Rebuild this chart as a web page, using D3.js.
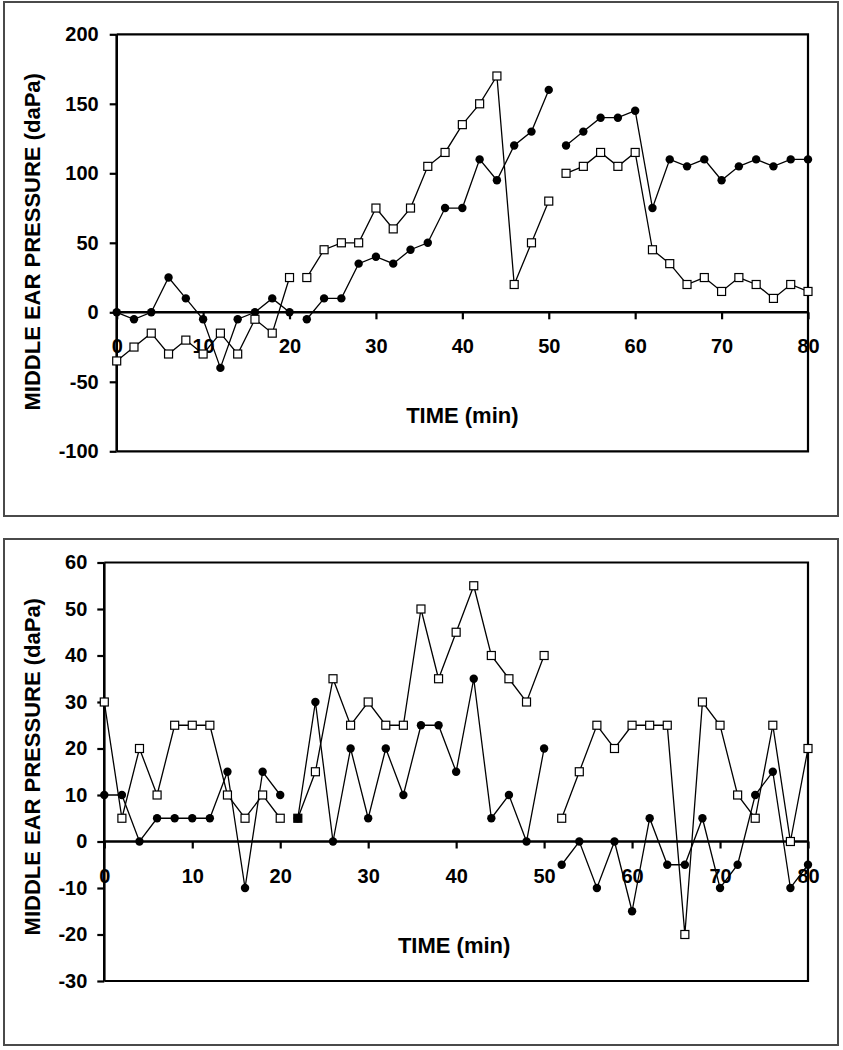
<!DOCTYPE html>
<html>
<head>
<meta charset="utf-8">
<script src="https://cdn.jsdelivr.net/npm/d3@7"></script>
<style>
  html, body { margin: 0; padding: 0; background: #fff; }
  svg { display: block; }
  text { font-family: "Liberation Sans", Arial, Helvetica, sans-serif; font-weight: bold; fill: #000; }
</style>
</head>
<body>
<svg id="chart" width="843" height="1050"></svg>
<script>
// ---------- DATA ----------
const time = [0,2,4,6,8,10,12,14,16,18,20,22,24,26,28,30,32,34,36,38,40,42,44,46,48,50,52,54,56,58,60,62,64,66,68,70,72,74,76,78,80];
// line is broken after these times
const gapAfter = [20, 50];

const xTicks = [0,10,20,30,40,50,60,70,80];

// Top panel
const topCircles = [0,-5,0,25,10,-5,-40,-5,0,10,0,
  -5,10,10,35,40,35,45,50,75,75,110,95,120,130,160,
  120,130,140,140,145,75,110,105,110,95,105,110,105,110,110];
const topSquares = [-35,-25,-15,-30,-20,-30,-15,-30,-5,-15,25,
  25,45,50,50,75,60,75,105,115,135,150,170,20,50,80,
  100,105,115,105,115,45,35,20,25,15,25,20,10,20,15];
const topYTicks = [-100,-50,0,50,100,150,200];

// Bottom panel
const bottomCircles = [10,10,0,5,5,5,5,15,-10,15,10,
  5,30,0,20,5,20,10,25,25,15,35,5,10,0,20,
  -5,0,-10,0,-15,5,-5,-5,5,-10,-5,10,15,-10,-5];
const bottomSquares = [30,5,20,10,25,25,25,10,5,10,5,
  5,15,35,25,30,25,25,50,35,45,55,40,35,30,40,
  5,15,25,20,25,25,25,-20,30,25,10,5,25,0,20];
const bottomYTicks = [-30,-20,-10,0,10,20,30,40,50,60];

const yTitle = "MIDDLE EAR PRESSURE (daPa)";
const xTitle = "TIME (min)";

// ---------- DRAW ----------
const svg = d3.select("#chart");
const fmt = d => String(d);

function segments(vals) {
  const segs = [];
  let cur = [];
  time.forEach((t, i) => {
    cur.push({t: t, v: vals[i]});
    if (gapAfter.includes(t)) { segs.push(cur); cur = []; }
  });
  if (cur.length) segs.push(cur);
  return segs;
}

function panel(cfg) {
  const g = svg.append("g");
  // outer frame
  g.append("rect")
    .attr("x", cfg.frame[0]).attr("y", cfg.frame[1])
    .attr("width", cfg.frame[2]).attr("height", cfg.frame[3])
    .attr("fill", "none").attr("stroke", "#4a4a4a").attr("stroke-width", 2);

  const x = d3.scaleLinear().domain([0, 80]).range([cfg.left, cfg.right]);
  const y = d3.scaleLinear().domain(cfg.yDomain).range([cfg.bottom, cfg.top]);

  // plot box (top, right, bottom)
  g.append("path")
    .attr("d", `M${x(0)},${y(cfg.yDomain[1])}H${x(80)}V${y(cfg.yDomain[0])}H${x(0)}`)
    .attr("fill", "none").attr("stroke", "#000").attr("stroke-width", 2.2);

  // y axis
  const ya = g.append("g").attr("transform", `translate(${x(0)},0)`)
    .call(d3.axisLeft(y).tickValues(cfg.yTicks).tickSize(7).tickSizeOuter(0).tickPadding(cfg.yPad).tickFormat(fmt));
  ya.select(".domain").remove();
  ya.selectAll(".tick line").attr("stroke", "#000").attr("stroke-width", 2.2);
  ya.selectAll(".tick text").attr("font-size", 20).attr("font-family", null).style("fill", "#000");
  g.append("line").attr("x1", x(0)).attr("x2", x(0))
    .attr("y1", y(cfg.yDomain[1])).attr("y2", y(cfg.yDomain[0]))
    .attr("stroke", "#000").attr("stroke-width", 2.6);

  // x axis at zero
  const xa = g.append("g").attr("transform", `translate(0,${y(0)})`)
    .call(d3.axisBottom(x).tickValues(xTicks).tickSize(7).tickSizeOuter(0).tickPadding(20).tickFormat(fmt));
  xa.select(".domain").remove();
  xa.selectAll(".tick line").attr("stroke", "#000").attr("stroke-width", 2.2);
  xa.selectAll(".tick text").attr("font-size", 20).attr("font-family", null).style("fill", "#000");
  g.append("line").attr("x1", x(0)).attr("x2", x(80))
    .attr("y1", y(0)).attr("y2", y(0))
    .attr("stroke", "#000").attr("stroke-width", 2.4);

  // titles
  g.append("text")
    .attr("transform", `translate(${cfg.yTitleX},${(y(cfg.yDomain[0]) + y(cfg.yDomain[1])) / 2 + cfg.yTitleShift}) rotate(-90)`)
    .attr("text-anchor", "middle").attr("dominant-baseline", "central")
    .attr("font-size", 22).text(yTitle);
  g.append("text")
    .attr("x", (x(0) + x(80)) / 2 + cfg.xTitleShift).attr("y", y(0) + 111)
    .attr("text-anchor", "middle").attr("font-size", 22).text(xTitle);

  const line = d3.line().x(d => x(d.t)).y(d => y(d.v));

  // series lines
  [cfg.circles, cfg.squares].forEach(vals => {
    segments(vals).forEach(seg => {
      g.append("path").attr("d", line(seg))
        .attr("fill", "none").attr("stroke", "#000").attr("stroke-width", 1.3);
    });
  });

  // circle markers
  g.append("g").selectAll("circle")
    .data(time.map((t, i) => ({t: t, v: cfg.circles[i]})))
    .join("circle")
    .attr("cx", d => x(d.t)).attr("cy", d => y(d.v)).attr("r", 4.2)
    .attr("fill", "#000");

  // square markers (filled black where both series coincide)
  const s = 8;
  g.append("g").selectAll("rect")
    .data(time.map((t, i) => ({t: t, v: cfg.squares[i], same: cfg.squares[i] === cfg.circles[i]})))
    .join("rect")
    .attr("x", d => x(d.t) - s / 2).attr("y", d => y(d.v) - s / 2)
    .attr("width", s).attr("height", s)
    .attr("fill", d => d.same ? "#000" : "#fff")
    .attr("stroke", "#000").attr("stroke-width", 1.2);
}

panel({
  frame: [4, 2, 834, 514],
  left: 116.7, right: 808, top: 34.3, bottom: 451.3,
  yDomain: [-100, 200], yTicks: topYTicks, yPad: 11,
  circles: topCircles, squares: topSquares,
  yTitleX: 32, yTitleShift: -1, xTitleShift: 0
});

panel({
  frame: [4, 539, 834, 506],
  left: 104.3, right: 808, top: 562.5, bottom: 981,
  yDomain: [-30, 60], yTicks: bottomYTicks, yPad: 10,
  circles: bottomCircles, squares: bottomSquares,
  yTitleX: 32, yTitleShift: -5, xTitleShift: -2
});
</script>
</body>
</html>
